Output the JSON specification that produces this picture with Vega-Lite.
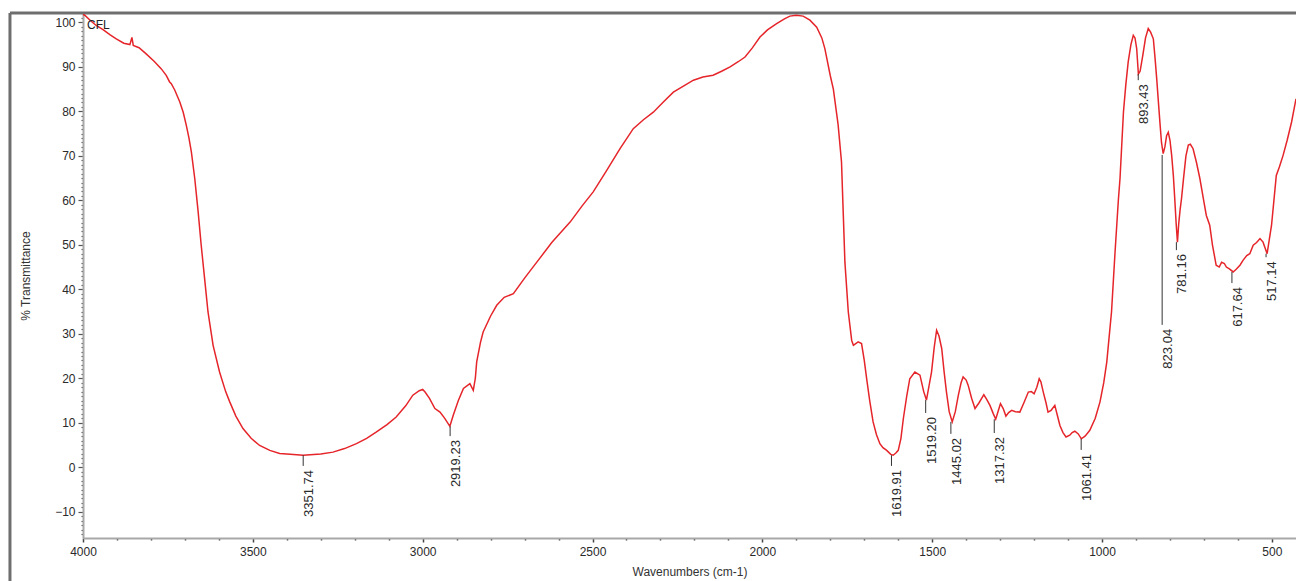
{
  "$schema": "https://vega.github.io/schema/vega-lite/v6.json",
  "width": 1213,
  "height": 525,
  "autosize": {"type": "none"},
  "padding": {"left": 83, "top": 13, "right": 0, "bottom": 43},
  "background": "white",
  "config": {"view": {"stroke": null}, "font": "Liberation Sans"},
  "datasets": {
    "spectrum": [
      {"wn": 4000, "v": 101.8}, {"wn": 3995, "v": 101.6}, {"wn": 3975, "v": 100.2}, {"wn": 3961, "v": 99.3},
      {"wn": 3940, "v": 98.3}, {"wn": 3920, "v": 97.2}, {"wn": 3902, "v": 96.3}, {"wn": 3880, "v": 95.3},
      {"wn": 3862, "v": 95.0}, {"wn": 3856, "v": 96.6}, {"wn": 3852, "v": 94.8}, {"wn": 3835, "v": 94.3},
      {"wn": 3814, "v": 92.9}, {"wn": 3790, "v": 91.2}, {"wn": 3770, "v": 89.6}, {"wn": 3755, "v": 88.1},
      {"wn": 3745, "v": 86.6}, {"wn": 3740, "v": 86.2}, {"wn": 3730, "v": 84.8}, {"wn": 3715, "v": 82.1},
      {"wn": 3705, "v": 79.8}, {"wn": 3696, "v": 76.9}, {"wn": 3688, "v": 74.0}, {"wn": 3681, "v": 70.9},
      {"wn": 3671, "v": 64.9}, {"wn": 3661, "v": 57.4}, {"wn": 3652, "v": 49.9}, {"wn": 3642, "v": 42.4},
      {"wn": 3632, "v": 34.9}, {"wn": 3617, "v": 27.4}, {"wn": 3598, "v": 21.4}, {"wn": 3580, "v": 17.0},
      {"wn": 3568, "v": 14.7}, {"wn": 3550, "v": 11.5}, {"wn": 3529, "v": 8.7}, {"wn": 3505, "v": 6.5},
      {"wn": 3480, "v": 4.9}, {"wn": 3450, "v": 3.8}, {"wn": 3421, "v": 3.1}, {"wn": 3390, "v": 2.9},
      {"wn": 3352, "v": 2.7}, {"wn": 3300, "v": 3.0}, {"wn": 3264, "v": 3.4}, {"wn": 3230, "v": 4.2},
      {"wn": 3195, "v": 5.3}, {"wn": 3165, "v": 6.5}, {"wn": 3137, "v": 7.9}, {"wn": 3105, "v": 9.6},
      {"wn": 3078, "v": 11.3}, {"wn": 3050, "v": 13.8}, {"wn": 3029, "v": 16.2}, {"wn": 3010, "v": 17.2},
      {"wn": 3000, "v": 17.5}, {"wn": 2993, "v": 16.9}, {"wn": 2980, "v": 15.5}, {"wn": 2964, "v": 13.2},
      {"wn": 2949, "v": 12.4}, {"wn": 2935, "v": 11.0}, {"wn": 2920, "v": 9.2}, {"wn": 2910, "v": 11.7},
      {"wn": 2895, "v": 15.0}, {"wn": 2880, "v": 17.7}, {"wn": 2861, "v": 18.8}, {"wn": 2851, "v": 17.3},
      {"wn": 2845, "v": 20.0}, {"wn": 2841, "v": 23.7}, {"wn": 2830, "v": 28.0}, {"wn": 2822, "v": 30.4},
      {"wn": 2800, "v": 34.0}, {"wn": 2782, "v": 36.4}, {"wn": 2760, "v": 38.2}, {"wn": 2733, "v": 39.0},
      {"wn": 2700, "v": 42.5}, {"wn": 2664, "v": 46.1}, {"wn": 2620, "v": 50.5}, {"wn": 2566, "v": 55.1},
      {"wn": 2530, "v": 58.8}, {"wn": 2498, "v": 61.9}, {"wn": 2460, "v": 66.5}, {"wn": 2419, "v": 71.6},
      {"wn": 2380, "v": 76.1}, {"wn": 2350, "v": 78.1}, {"wn": 2321, "v": 79.8}, {"wn": 2290, "v": 82.2},
      {"wn": 2262, "v": 84.3}, {"wn": 2230, "v": 85.8}, {"wn": 2203, "v": 87.0}, {"wn": 2175, "v": 87.7},
      {"wn": 2145, "v": 88.1}, {"wn": 2120, "v": 89.0}, {"wn": 2095, "v": 90.0}, {"wn": 2070, "v": 91.2},
      {"wn": 2051, "v": 92.2}, {"wn": 2030, "v": 94.2}, {"wn": 2007, "v": 96.7}, {"wn": 1985, "v": 98.3},
      {"wn": 1958, "v": 99.7}, {"wn": 1935, "v": 100.8}, {"wn": 1919, "v": 101.4}, {"wn": 1900, "v": 101.6},
      {"wn": 1880, "v": 101.4}, {"wn": 1860, "v": 100.5}, {"wn": 1840, "v": 98.9}, {"wn": 1825, "v": 96.5},
      {"wn": 1816, "v": 94.1}, {"wn": 1800, "v": 88.0}, {"wn": 1791, "v": 85.0}, {"wn": 1777, "v": 77.0},
      {"wn": 1767, "v": 68.6}, {"wn": 1762, "v": 57.4}, {"wn": 1757, "v": 46.1}, {"wn": 1747, "v": 34.9},
      {"wn": 1737, "v": 28.5}, {"wn": 1732, "v": 27.4}, {"wn": 1718, "v": 28.2}, {"wn": 1708, "v": 27.8},
      {"wn": 1700, "v": 24.0}, {"wn": 1693, "v": 19.9}, {"wn": 1684, "v": 15.0}, {"wn": 1674, "v": 10.2},
      {"wn": 1664, "v": 7.3}, {"wn": 1654, "v": 5.3}, {"wn": 1645, "v": 4.4}, {"wn": 1634, "v": 3.8},
      {"wn": 1622, "v": 2.9}, {"wn": 1615, "v": 2.7}, {"wn": 1607, "v": 3.2}, {"wn": 1600, "v": 3.8},
      {"wn": 1592, "v": 6.5}, {"wn": 1585, "v": 10.9}, {"wn": 1575, "v": 16.0}, {"wn": 1566, "v": 19.9},
      {"wn": 1551, "v": 21.4}, {"wn": 1536, "v": 20.7}, {"wn": 1525, "v": 17.0}, {"wn": 1517, "v": 15.1},
      {"wn": 1510, "v": 18.0}, {"wn": 1502, "v": 21.4}, {"wn": 1494, "v": 27.0}, {"wn": 1487, "v": 30.8},
      {"wn": 1480, "v": 29.5}, {"wn": 1472, "v": 26.7}, {"wn": 1465, "v": 21.5}, {"wn": 1458, "v": 16.9},
      {"wn": 1450, "v": 12.5}, {"wn": 1441, "v": 10.2}, {"wn": 1432, "v": 12.5}, {"wn": 1423, "v": 16.2},
      {"wn": 1415, "v": 19.0}, {"wn": 1409, "v": 20.3}, {"wn": 1400, "v": 19.6}, {"wn": 1394, "v": 18.4},
      {"wn": 1384, "v": 15.5}, {"wn": 1374, "v": 13.2}, {"wn": 1362, "v": 14.5}, {"wn": 1348, "v": 16.3},
      {"wn": 1340, "v": 15.3}, {"wn": 1330, "v": 13.9}, {"wn": 1320, "v": 12.0}, {"wn": 1313, "v": 10.8},
      {"wn": 1305, "v": 12.8}, {"wn": 1299, "v": 14.3}, {"wn": 1291, "v": 13.2}, {"wn": 1283, "v": 11.5},
      {"wn": 1275, "v": 12.3}, {"wn": 1266, "v": 12.8}, {"wn": 1255, "v": 12.5}, {"wn": 1242, "v": 12.4},
      {"wn": 1230, "v": 14.5}, {"wn": 1217, "v": 16.9}, {"wn": 1208, "v": 17.0}, {"wn": 1200, "v": 16.5},
      {"wn": 1192, "v": 18.0}, {"wn": 1185, "v": 19.9}, {"wn": 1180, "v": 19.2}, {"wn": 1173, "v": 16.9},
      {"wn": 1165, "v": 14.5}, {"wn": 1159, "v": 12.4}, {"wn": 1150, "v": 12.8}, {"wn": 1139, "v": 13.9},
      {"wn": 1132, "v": 11.8}, {"wn": 1124, "v": 9.4}, {"wn": 1115, "v": 7.8}, {"wn": 1106, "v": 6.8},
      {"wn": 1095, "v": 7.2}, {"wn": 1088, "v": 7.8}, {"wn": 1080, "v": 8.1}, {"wn": 1070, "v": 7.5},
      {"wn": 1061, "v": 6.4}, {"wn": 1050, "v": 7.0}, {"wn": 1036, "v": 8.3}, {"wn": 1020, "v": 11.0},
      {"wn": 1006, "v": 14.7}, {"wn": 995, "v": 19.0}, {"wn": 986, "v": 23.7}, {"wn": 977, "v": 31.0},
      {"wn": 972, "v": 35.0}, {"wn": 962, "v": 48.0}, {"wn": 952, "v": 60.0}, {"wn": 947, "v": 65.0},
      {"wn": 937, "v": 79.8}, {"wn": 930, "v": 86.0}, {"wn": 923, "v": 91.1}, {"wn": 915, "v": 95.0},
      {"wn": 908, "v": 97.1}, {"wn": 903, "v": 96.5}, {"wn": 898, "v": 94.1}, {"wn": 893, "v": 88.4},
      {"wn": 888, "v": 89.0}, {"wn": 880, "v": 92.6}, {"wn": 872, "v": 96.5}, {"wn": 864, "v": 98.6},
      {"wn": 857, "v": 97.8}, {"wn": 849, "v": 96.3}, {"wn": 844, "v": 92.0}, {"wn": 839, "v": 87.3},
      {"wn": 834, "v": 82.0}, {"wn": 829, "v": 76.9}, {"wn": 825, "v": 73.0}, {"wn": 820, "v": 70.5},
      {"wn": 815, "v": 72.0}, {"wn": 810, "v": 74.5}, {"wn": 805, "v": 75.3}, {"wn": 800, "v": 73.5},
      {"wn": 795, "v": 70.1}, {"wn": 790, "v": 65.5}, {"wn": 786, "v": 60.4}, {"wn": 782, "v": 55.0},
      {"wn": 778, "v": 50.6}, {"wn": 774, "v": 55.0}, {"wn": 770, "v": 58.0}, {"wn": 766, "v": 60.4},
      {"wn": 760, "v": 65.0}, {"wn": 753, "v": 70.0}, {"wn": 746, "v": 72.4}, {"wn": 740, "v": 72.6},
      {"wn": 732, "v": 71.6}, {"wn": 722, "v": 68.5}, {"wn": 712, "v": 64.9}, {"wn": 702, "v": 60.5},
      {"wn": 693, "v": 56.6}, {"wn": 683, "v": 54.4}, {"wn": 675, "v": 50.0}, {"wn": 664, "v": 45.4},
      {"wn": 655, "v": 45.0}, {"wn": 648, "v": 46.1}, {"wn": 640, "v": 45.8}, {"wn": 634, "v": 45.0},
      {"wn": 625, "v": 44.6}, {"wn": 614, "v": 43.9}, {"wn": 605, "v": 44.5}, {"wn": 594, "v": 45.4},
      {"wn": 585, "v": 46.5}, {"wn": 574, "v": 47.6}, {"wn": 565, "v": 48.0}, {"wn": 555, "v": 49.9},
      {"wn": 545, "v": 50.5}, {"wn": 535, "v": 51.4}, {"wn": 526, "v": 50.6}, {"wn": 520, "v": 49.3},
      {"wn": 514, "v": 48.0}, {"wn": 508, "v": 51.0}, {"wn": 501, "v": 54.4}, {"wn": 494, "v": 60.0},
      {"wn": 487, "v": 65.6}, {"wn": 478, "v": 67.5}, {"wn": 467, "v": 70.1}, {"wn": 455, "v": 73.5},
      {"wn": 442, "v": 77.6}, {"wn": 429, "v": 82.8}
    ],
    "peaks": [
      {"wn": 3351.74, "v": 2.7, "v2": 0.3, "label": "3351.74"},
      {"wn": 2919.23, "v": 9.2, "v2": 7.0, "label": "2919.23"},
      {"wn": 1619.91, "v": 2.7, "v2": 0.3, "label": "1619.91"},
      {"wn": 1519.20, "v": 15.1, "v2": 12.2, "label": "1519.20"},
      {"wn": 1445.02, "v": 10.2, "v2": 7.5, "label": "1445.02"},
      {"wn": 1317.32, "v": 10.8, "v2": 7.7, "label": "1317.32"},
      {"wn": 1061.41, "v": 6.4, "v2": 3.9, "label": "1061.41"},
      {"wn": 893.43, "v": 88.4, "v2": 87.0, "label": "893.43"},
      {"wn": 823.04, "v": 70.2, "v2": 32.0, "label": "823.04"},
      {"wn": 781.16, "v": 50.6, "v2": 48.8, "label": "781.16"},
      {"wn": 617.64, "v": 43.9, "v2": 41.4, "label": "617.64"},
      {"wn": 517.14, "v": 48.0, "v2": 47.2, "label": "517.14"}
    ],
    "frameV": [{"wn": 4215, "v": -27, "v2": 102.1}],
    "frameH": [{"wn": 4215, "wn2": 400, "v": 102.1}],
    "note": [{"wn": 3988, "v": 99.4, "label": "CFL"}]
  },
  "encoding": {
    "x": {
      "field": "wn", "type": "quantitative",
      "scale": {"domain": [429, 4000], "reverse": true, "nice": false, "zero": false},
      "axis": {
        "title": "Wavenumbers (cm-1)",
        "values": [500, 600, 700, 800, 900, 1000, 1100, 1200, 1300, 1400, 1500, 1600, 1700, 1800, 1900, 2000, 2100, 2200, 2300, 2400, 2500, 2600, 2700, 2800, 2900, 3000, 3100, 3200, 3300, 3400, 3500, 3600, 3700, 3800, 3900, 4000],
        "format": "d",
        "labelExpr": "datum.value % 500 === 0 ? datum.label : ''",
        "labelOverlap": false, "labelFlush": false, "labelBound": false,
        "tickSize": {"condition": {"test": "datum.value % 500 === 0", "value": 4}, "value": 2},
        "tickColor": "#444", "tickWidth": 1.5,
        "domainColor": "#a8a8a8", "domainWidth": 2,
        "grid": false,
        "labelFont": "Liberation Sans", "labelFontSize": 12, "labelColor": "#2a2a2a", "labelPadding": 4,
        "titleFont": "Liberation Sans", "titleFontSize": 12, "titleFontWeight": "normal", "titleColor": "#333",
        "titlePadding": 9
      }
    },
    "y": {
      "field": "v", "type": "quantitative",
      "scale": {"domain": [-15.9, 102.1], "nice": false, "zero": false},
      "axis": {
        "title": "% Transmittance",
        "values": [-15, -14, -13, -12, -11, -10, -9, -8, -7, -6, -5, -4, -3, -2, -1, 0, 1, 2, 3, 4, 5, 6, 7, 8, 9, 10, 11, 12, 13, 14, 15, 16, 17, 18, 19, 20, 21, 22, 23, 24, 25, 26, 27, 28, 29, 30, 31, 32, 33, 34, 35, 36, 37, 38, 39, 40, 41, 42, 43, 44, 45, 46, 47, 48, 49, 50, 51, 52, 53, 54, 55, 56, 57, 58, 59, 60, 61, 62, 63, 64, 65, 66, 67, 68, 69, 70, 71, 72, 73, 74, 75, 76, 77, 78, 79, 80, 81, 82, 83, 84, 85, 86, 87, 88, 89, 90, 91, 92, 93, 94, 95, 96, 97, 98, 99, 100, 101],
        "format": "d",
        "labelExpr": "datum.value % 10 === 0 ? datum.label : ''",
        "labelOverlap": false, "labelFlush": false, "labelBound": false,
        "tickSize": {"condition": {"test": "datum.value % 10 === 0", "value": 5}, "value": 2},
        "tickColor": "#555", "tickWidth": 1.2,
        "domainColor": "#a8a8a8", "domainWidth": 2,
        "grid": false,
        "labelFont": "Liberation Sans", "labelFontSize": 12, "labelColor": "#2a2a2a", "labelPadding": 3,
        "titleFont": "Liberation Sans", "titleFontSize": 12, "titleFontWeight": "normal", "titleColor": "#333",
        "titlePadding": 22
      }
    }
  },
  "layer": [
    {
      "data": {"name": "frameV"},
      "mark": {"type": "rule", "color": "#6e6e6e", "strokeWidth": 3},
      "encoding": {"y2": {"field": "v2"}}
    },
    {
      "data": {"name": "frameH"},
      "mark": {"type": "rule", "color": "#6e6e6e", "strokeWidth": 3},
      "encoding": {"x2": {"field": "wn2"}}
    },
    {
      "data": {"name": "spectrum"},
      "mark": {"type": "line", "color": "#e5252a", "strokeWidth": 1.5, "clip": true},
      "encoding": {}
    },
    {
      "data": {"name": "peaks"},
      "mark": {"type": "rule", "color": "#333", "strokeWidth": 1},
      "encoding": {"y2": {"field": "v2"}}
    },
    {
      "data": {"name": "peaks"},
      "mark": {"type": "text", "angle": 270, "align": "right", "baseline": "top", "dx": -4, "dy": 0, "font": "Liberation Sans", "fontSize": 13, "color": "#2a2a2a"},
      "encoding": {"y": {"field": "v2", "type": "quantitative"}, "text": {"field": "label"}}
    },
    {
      "data": {"name": "note"},
      "mark": {"type": "text", "align": "left", "baseline": "middle", "font": "Liberation Sans", "fontSize": 12, "color": "#222"},
      "encoding": {"text": {"field": "label"}}
    }
  ]
}
